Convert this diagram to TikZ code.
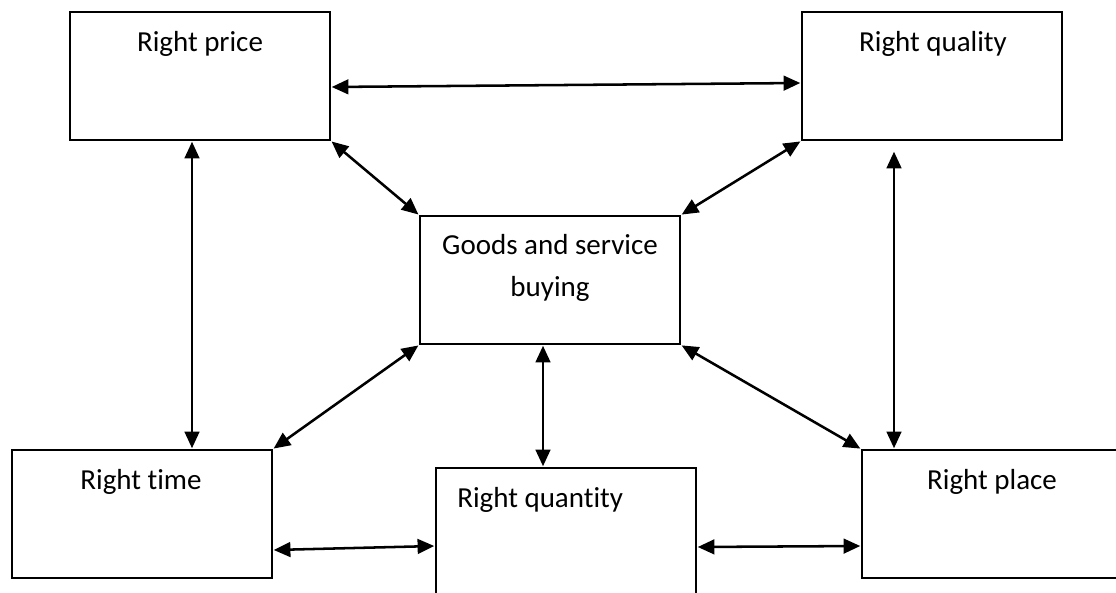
\documentclass[tikz,border=0pt]{standalone}
\usepackage{fontspec}
\setmainfont[Ligatures=NoCommon]{Carlito}
\usetikzlibrary{arrows.meta}
\begin{document}
\begin{tikzpicture}[x=0.75pt,y=-0.75pt,
  box/.style={draw=black,line width=1.6pt,minimum width=195pt,minimum height=96pt,inner sep=0pt,fill=white},
  lbl/.style={font=\fontsize{21.75pt}{31.5pt}\selectfont,inner sep=0pt},
  link/.style={line width=1.9pt,{Triangle[length=12.5pt,width=11pt]}-{Triangle[length=12.5pt,width=11pt]},shorten <=0.5pt,shorten >=0.5pt}]
\useasboundingbox (0,0) rectangle (1116,592);
\clip (0,0) rectangle (1116,592);
\fill[white] (0,0) rectangle (1116,592);
% boxes
\node[box] (price) at (200,76) {};
\node[box] (quality) at (932,76) {};
\node[box] (center) at (550,280) {};
\node[box] (time) at (142,514) {};
\node[box] (quantity) at (566,532) {};
\node[box] (place) at (992,514) {};
% labels
\node[lbl,anchor=base] (tprice) at (200,52) {Right price};
\node[lbl,anchor=base] (tquality) at (933,52) {Right quality};
\node[lbl,anchor=base] (ttime) at (141,489) {Right time};
\node[lbl,anchor=base west] (tquantity) at (457,507) {Right quantity};
\node[lbl,anchor=base] (tplace) at (992,489) {Right place};
\node[lbl,align=center] (tcenter) at (550,268) {Goods and service\\buying};
% connectors
\draw[link] (price.east |- 0,87) -- (quality.west |- 0,83);
\draw[link] (price.south -| 192,0) -- (time.north -| 192,0);
\draw[link] (894,151) coordinate (qtop) -- (place.north -| qtop);
\draw[link] (price.south east) -- (center.north west);
\draw[link] (quality.south west) -- (center.north east);
\draw[link] (center.south west) -- (time.north east);
\draw[link] (center.south east) -- (place.north west);
\draw[link] (center.south -| 543,0) -- (quantity.north -| 543,0);
\draw[link] (time.east |- 0,550) -- (quantity.west |- 0,546);
\draw[link] (quantity.east |- 0,547) -- (place.west |- 0,546);
\end{tikzpicture}
\end{document}
